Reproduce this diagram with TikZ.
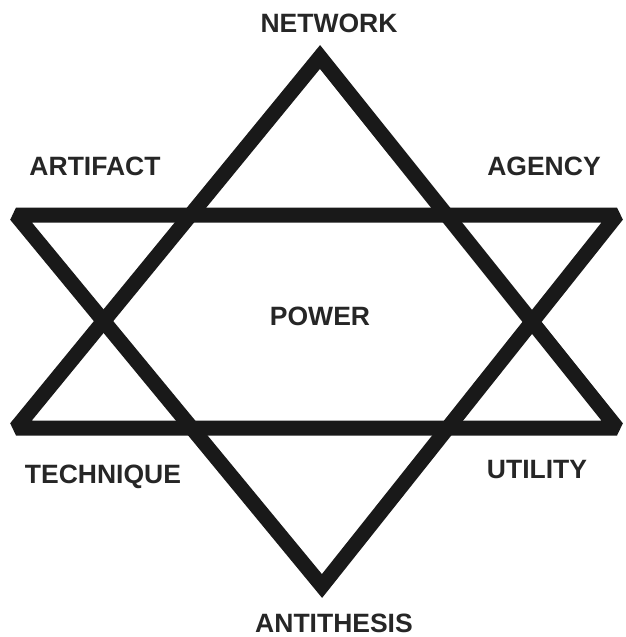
\documentclass[tikz,border=0pt]{standalone}
\usepackage{fontspec}
\setmainfont{Liberation Sans}
\begin{document}
\begin{tikzpicture}[x=1pt,y=-1pt,
  lbl/.style={font=\fontsize{26.5}{30}\selectfont\bfseries, text=black!85, inner sep=0pt, anchor=base},
  bar/.style={line width=15pt, line join=miter, miter limit=2, draw=black!90}]
\useasboundingbox (0,0) rectangle (626,637);
% upward triangle
\coordinate (U1) at (320,57);
\coordinate (U2) at (16,428);
\coordinate (U3) at (617,428);
% downward triangle
\coordinate (D1) at (16,215);
\coordinate (D2) at (617,215);
\coordinate (D3) at (322,586);
\draw[bar] (U1) -- (U2) -- (U3) -- cycle;
\draw[bar] (D1) -- (D2) -- (D3) -- cycle;
\node[lbl] (network) at (329,32) {NETWORK};
\node[lbl] (artifact) at (95,175) {ARTIFACT};
\node[lbl] (agency) at (544,175) {AGENCY};
\node[lbl] (power) at (320,325) {POWER};
\node[lbl] (technique) at (103,483) {TECHNIQUE};
\node[lbl] (utility) at (537,478) {UTILITY};
\node[lbl] (antithesis) at (334,632) {ANTITHESIS};
\end{tikzpicture}
\end{document}
